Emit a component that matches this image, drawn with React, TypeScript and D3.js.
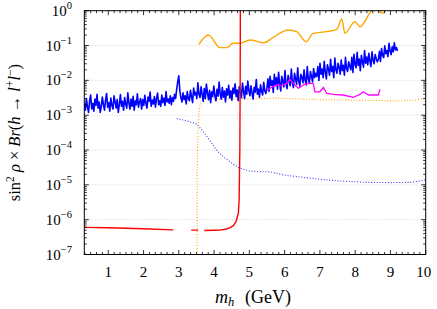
import React from 'react';
import * as d3 from 'd3';

const W = 437;
const H = 309;
const L = 84.3, R = 425.7, T = 10.7, B = 254.5;

const X_DOMAIN: [number, number] = [0.32, 10];
const Y_DOMAIN: [number, number] = [1e-7, 1];
const xTickValues = [1, 2, 3, 4, 5, 6, 7, 8, 9, 10];
const yTickExponents = [0, -1, -2, -3, -4, -5, -6, -7];
const gridExponents = [-1, -2, -3, -4, -5, -6];

// blue solid (noisy) curve, values in units of 1e-3, evenly spaced from blueStart to blueEnd
const blueStart = 0.32;
const blueEnd = 9.2;
const blueSolidMilli = [
  // 0.32 - 2.84
  2.1, 1.4, 3.0, 1.7, 1.2, 2.6, 3.8, 1.5, 2.2, 1.3, 2.9, 1.9, 4.0, 1.6, 2.4, 1.2, 1.8, 3.3, 2.0, 1.4,
  2.7, 4.2, 1.7, 2.3, 1.3, 3.1, 1.9, 1.5, 3.6, 2.4, 1.6, 2.8, 1.2, 2.0, 3.9, 1.8, 2.5, 1.4, 3.2, 2.1,
  1.6, 4.4, 2.3, 1.5, 2.9, 1.8, 3.5, 1.4, 2.6, 2.0, 4.1, 1.7, 2.4, 3.0, 1.5, 2.8, 1.9, 3.7, 2.2, 1.6,
  3.3, 2.5, 4.6, 1.8, 2.7, 2.1, 3.4, 1.7, 3.0, 4.3, 2.0, 2.6, 1.8, 3.8, 2.3, 3.1, 1.9, 4.8, 2.4, 2.9,
  2.2, 3.6, 2.0, 3.2,
  // 2.84 - 3.6
  2.5, 4.0, 3.0, 5.5, 9.0, 13.5, 5.0, 3.2, 2.4, 4.4, 2.8, 3.6, 2.1, 4.8, 3.0, 2.6, 5.2, 3.4, 2.3, 6.0,
  3.8, 4.5, 3.0, 8.5, 4.0,
  // 3.6 - 5.5
  3.2, 6.5, 4.0, 2.5, 5.8, 3.0, 7.8, 4.4, 2.8, 5.2, 2.3, 4.7, 3.4, 6.9, 3.7, 2.6, 5.5, 3.5, 9.0, 4.1,
  2.9, 6.2, 3.3, 4.9, 2.4, 5.7, 3.8, 7.2, 3.1, 5.0, 2.7, 6.0, 4.2, 8.0, 3.4, 5.3, 2.6, 6.6, 4.5, 3.2,
  8.4, 4.8, 3.0, 6.8, 4.0, 9.5, 5.2, 3.6, 7.0, 4.3, 2.9, 6.3, 4.6, 10.5, 4.0, 5.6, 3.3, 7.5, 4.8, 3.8,
  8.8, 5.0, 4.2,
  // 5.5 - 6.9
  6.0, 11, 4.8, 13, 7.2, 9.8, 4.5, 15, 7.0, 12, 5.6, 17, 8.2, 5.0, 13, 9.4, 6.5, 19, 8.0, 5.8,
  14, 10, 7.0, 21, 8.8, 6.2, 16, 11, 7.6, 23, 9.5, 6.8, 15, 12.5, 8.5, 20, 10, 7.4, 25, 11,
  8.2, 18, 13, 9.0, 22, 12, 16,
  // 6.9 - 7.86
  13, 25, 10, 31, 15, 21, 12, 35, 17, 11, 28, 21, 14, 40, 18, 25, 12, 44, 20, 16,
  31, 24, 15, 38, 19, 27, 14, 46, 22, 18, 34, 26,
  // 7.86 - 8.63
  20, 46, 17, 56, 29, 23, 64, 27, 41, 19, 52, 34, 24, 72, 31, 47, 28, 60, 36, 25,
  66, 38, 30, 55, 42, 34,
  // 8.63 - 9.2
  40, 68, 35, 82, 52, 45, 98, 58, 72, 48, 115, 70, 55, 92, 66, 120, 75, 88, 70,
];

const blueDotX = [2.94, 3.2, 3.5, 3.65, 3.8, 3.95, 4.1, 4.3, 4.5, 4.7, 5.0, 5.3, 5.6, 6.0, 6.5, 7.0, 7.5, 8.3, 9.0, 9.6, 10];
const blueDotY = [8.0e-4, 7.0e-4, 5.6e-4, 3.8e-4, 2.4e-4, 1.5e-4, 9.0e-5, 6.0e-5, 4.2e-5, 3.1e-5, 2.5e-5, 2.4e-5, 2.35e-5, 1.9e-5, 1.65e-5, 1.45e-5, 1.3e-5, 1.18e-5, 1.16e-5, 1.18e-5, 1.38e-5];

const orangeDotX = [3.52, 3.52, 3.54, 3.58, 3.64, 3.8, 4.5, 5.2, 5.8, 6.5, 7.4, 8.3, 9.3, 9.7, 10];
const orangeDotY = [1e-7, 3e-5, 3e-4, 1.5e-3, 2.9e-3, 2.9e-3, 2.9e-3, 3.0e-3, 3.1e-3, 2.9e-3, 2.75e-3, 2.65e-3, 2.6e-3, 2.7e-3, 3.1e-3];

const orangeX = [3.57, 3.84, 4.17, 4.36, 4.54, 4.73, 5.02, 5.40, 5.68, 6.10, 6.34, 6.61, 6.81, 7.19, 7.48, 7.62, 7.71, 7.99, 8.14, 8.42, 8.51, 8.62, 8.72, 8.8, 8.9];
const orangeY = [0.108, 0.20, 0.087, 0.087, 0.116, 0.116, 0.144, 0.12, 0.172, 0.279, 0.25, 0.129, 0.224, 0.25, 0.292, 0.578, 0.224, 0.483, 0.347, 0.877, 1.15, 1.4, 0.9, 0.85, 1.4];

const magentaX = [5.49, 5.63, 5.77, 5.92, 6.06, 6.15, 6.29, 6.39, 6.53, 6.67, 6.81, 6.86, 7.0, 7.10, 7.19, 7.38, 7.66, 7.95, 8.14, 8.23, 8.37, 8.66, 8.70];
const magentaY = [5.3e-3, 6.3e-3, 7.4e-3, 7.0e-3, 8.2e-3, 1.09e-2, 7.4e-3, 5.9e-3, 7.4e-3, 8.2e-3, 8.2e-3, 4.7e-3, 4.7e-3, 6.3e-3, 4.25e-3, 3.98e-3, 3.8e-3, 3.27e-3, 3.98e-3, 4.7e-3, 3.8e-3, 3.8e-3, 5.5e-3];

const redX = [0.32, 1.0, 2.0, 2.84, 3.1, 3.35, 3.55, 3.62, 3.72, 4.0, 4.17, 4.35, 4.45, 4.54, 4.62, 4.69, 4.71, 4.73, 4.74, 4.745];
const redY = [6.0e-7, 5.85e-7, 5.5e-7, 5.1e-7, NaN, 5.0e-7, 5.0e-7, NaN, 4.9e-7, 4.95e-7, 5.0e-7, 5.4e-7, 5.9e-7, 6.6e-7, 8.7e-7, 1.56e-6, 3.7e-6, 1e-4, 1e-2, 1.5];

const FONT = '"Liberation Serif", "DejaVu Serif", serif';

export default function App() {
  const x = d3.scaleLinear().domain(X_DOMAIN).range([L, R]);
  const y = d3.scaleLog().domain(Y_DOMAIN).range([B, T]);
  const line = d3
    .line<[number, number]>()
    .defined((d) => Number.isFinite(d[1]))
    .x((d) => x(d[0]))
    .y((d) => y(d[1]));

  const zip = (xs: number[], ys: number[]) => xs.map((v, i) => [v, ys[i]] as [number, number]);
  const step = (blueEnd - blueStart) / (blueSolidMilli.length - 1);
  const bluePts = blueSolidMilli.map((v, i) => [blueStart + i * step, v * 1e-3] as [number, number]);

  const xMinor: number[] = [];
  for (let i = Math.ceil(X_DOMAIN[0] * 6); i <= 60; i++) {
    if (i % 6 !== 0) xMinor.push(i / 6);
  }
  const yMinor: number[] = [];
  for (let e = -7; e < 0; e++) for (let k = 2; k <= 9; k++) yMinor.push(k * Math.pow(10, e));

  const smooth = d3
    .line<[number, number]>()
    .curve(d3.curveMonotoneX)
    .x((d) => x(d[0]))
    .y((d) => y(d[1]));

  return (
    <svg width={W} height={H} style={{ position: 'absolute', left: 0, top: 0, background: '#fff' }} fontFamily={FONT}>
      <defs>
        <clipPath id="plot">
          <rect x={L} y={T} width={R - L} height={B - T} />
        </clipPath>
      </defs>
      {gridExponents.map((e) => (
        <line key={e} x1={L} x2={R} y1={y(Math.pow(10, e))} y2={y(Math.pow(10, e))} stroke="#cfcfcf" strokeWidth={0.8} strokeDasharray="1,1.5" />
      ))}
      <g clipPath="url(#plot)" fill="none" strokeLinejoin="round">
        <path d={line(zip(blueDotX, blueDotY)) || ''} stroke="#3a3aff" strokeWidth={1.1} strokeDasharray="1,1.8" />
        <path d={line(zip(orangeDotX, orangeDotY)) || ''} stroke="#ffa500" strokeWidth={1.1} strokeDasharray="1,1.8" />
        <path d={line(bluePts) || ''} stroke="#0000ff" strokeWidth={1.6} />
        <path d={line(zip(magentaX, magentaY)) || ''} stroke="#ff00ff" strokeWidth={1.3} />
        <path d={smooth(zip(orangeX, orangeY)) || ''} stroke="#ffa500" strokeWidth={1.4} />
        <path d={line(zip(redX, redY)) || ''} stroke="#ff0000" strokeWidth={1.4} />
      </g>
      <rect x={L} y={T} width={R - L} height={B - T} fill="none" stroke="#000" strokeWidth={1} />
      <g stroke="#000" strokeWidth={0.8}>
        {xTickValues.map((v) => (
          <g key={'xt' + v}>
            <line x1={x(v)} x2={x(v)} y1={B} y2={B - 4.5} />
            <line x1={x(v)} x2={x(v)} y1={T} y2={T + 4.5} />
          </g>
        ))}
        {xMinor.map((v, i) => (
          <g key={'xm' + i}>
            <line x1={x(v)} x2={x(v)} y1={B} y2={B - 2.5} />
            <line x1={x(v)} x2={x(v)} y1={T} y2={T + 2.5} />
          </g>
        ))}
        {yTickExponents.map((e) => (
          <g key={'yt' + e}>
            <line x1={L} x2={L + 4.5} y1={y(Math.pow(10, e))} y2={y(Math.pow(10, e))} />
            <line x1={R} x2={R - 4.5} y1={y(Math.pow(10, e))} y2={y(Math.pow(10, e))} />
          </g>
        ))}
        {yMinor.map((v, i) => (
          <g key={'ym' + i}>
            <line x1={L} x2={L + 2.5} y1={y(v)} y2={y(v)} />
            <line x1={R} x2={R - 2.5} y1={y(v)} y2={y(v)} />
          </g>
        ))}
      </g>
      {xTickValues.map((v) => (
        <text key={'xl' + v} x={v === 10 ? x(v) - 2 : x(v)} y={277} fontSize={15} textAnchor="middle" fill="#000">
          {v}
        </text>
      ))}
      {yTickExponents.map((e) => (
        <text key={'yl' + e} x={72} y={y(Math.pow(10, e)) + 5} fontSize={15} textAnchor="end" fill="#000">
          10
          <tspan dy={-7} fontSize={10.5}>{e === 0 ? '0' : '\u2212' + Math.abs(e)}</tspan>
        </text>
      ))}
      <text x={215} y={303} fontSize={18} fill="#000">
        <tspan fontStyle="italic">m</tspan>
        <tspan dy={3} fontSize={12.5} fontStyle="italic">h</tspan>
      </text>
      <text x={245} y={303} fontSize={18} fill="#000">(GeV)</text>
      <text transform={`translate(20,${(T + B) / 2}) rotate(-90)`} fontSize={16.5} textAnchor="middle" fill="#000">
        sin
        <tspan dy={-6} fontSize={11.5}>2</tspan>
        <tspan dy={6}> </tspan>
        <tspan fontStyle="italic">ρ</tspan>
        <tspan> × </tspan>
        <tspan fontStyle="italic">Br</tspan>
        <tspan>(</tspan>
        <tspan fontStyle="italic">h</tspan>
        <tspan> → </tspan>
        <tspan fontStyle="italic">l</tspan>
        <tspan dy={-6} fontSize={11.5}>+</tspan>
        <tspan dy={6} fontStyle="italic">l</tspan>
        <tspan dy={-6} fontSize={11.5}>−</tspan>
        <tspan dy={6}>)</tspan>
      </text>
    </svg>
  );
}
